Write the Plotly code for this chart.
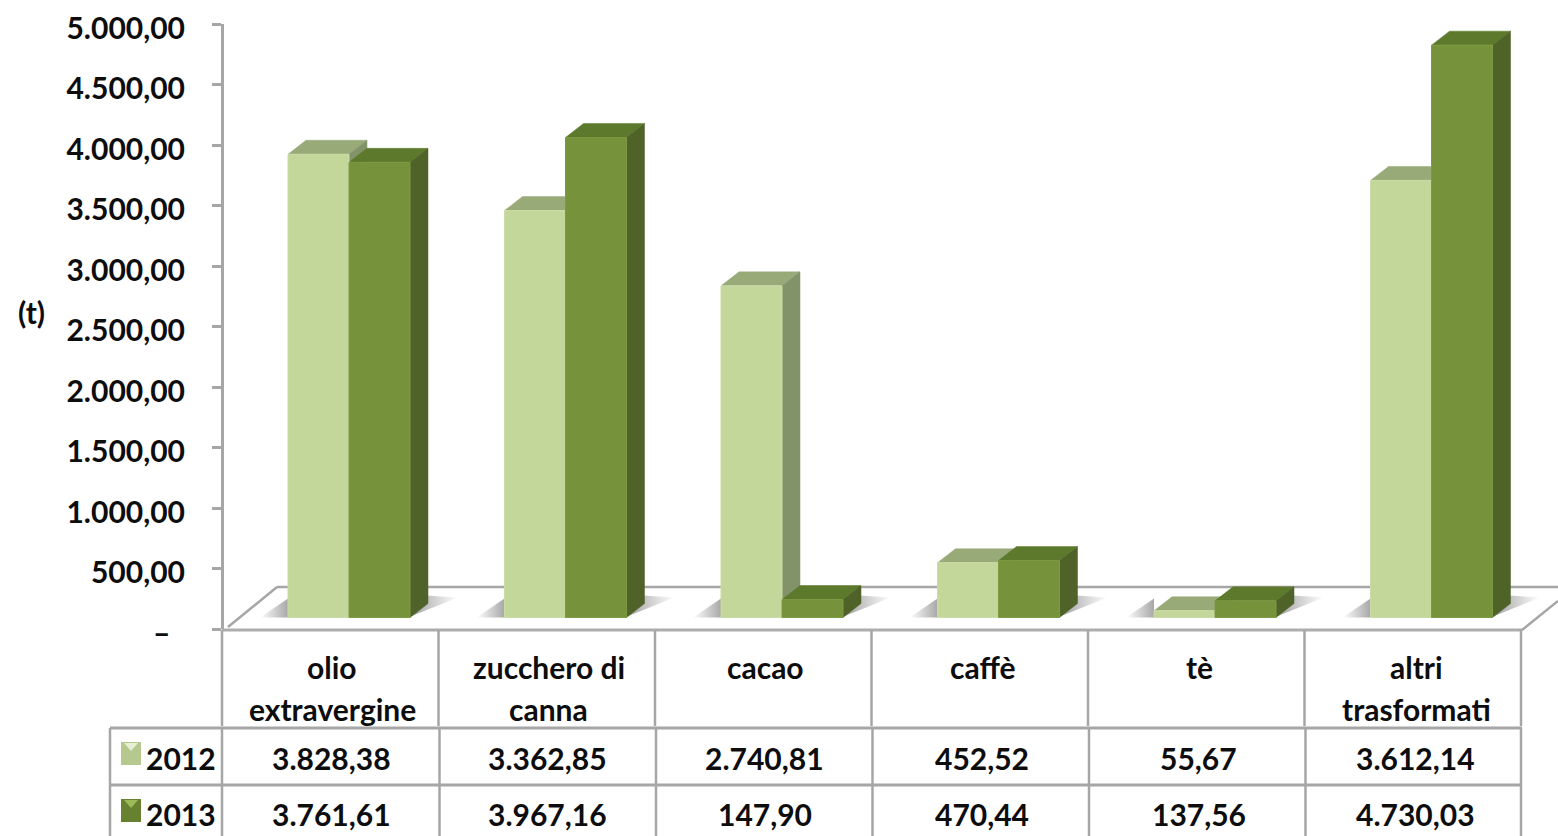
import plotly.graph_objects as go

W, H = 1558, 836
categories = ["olio<br>extravergine", "zucchero di<br>canna", "cacao", "caffè", "tè", "altri<br>trasformati"]
years = ["2012", "2013"]
values_2012 = [3828.38, 3362.85, 2740.81, 452.52, 55.67, 3612.14]
values_2013 = [3761.61, 3967.16, 147.90, 470.44, 137.56, 4730.03]
labels_2012 = ["3.828,38", "3.362,85", "2.740,81", "452,52", "55,67", "3.612,14"]
labels_2013 = ["3.761,61", "3.967,16", "147,90", "470,44", "137,56", "4.730,03"]
tick_vals = [0, 500, 1000, 1500, 2000, 2500, 3000, 3500, 4000, 4500, 5000]
tick_text = ["–\u00a0\u00a0", "500,00", "1.000,00", "1.500,00", "2.000,00", "2.500,00",
             "3.000,00", "3.500,00", "4.000,00", "4.500,00", "5.000,00"]

GRID = "#a6a6a6"
TXT = "#0d0d0d"
FONT = "Lato"
FS = 30
COL_W = 216.5
X0_PX = 330.25
Y0_PX, Y5K_PX = 629, 24
PX_Y = 5000 / (Y0_PX - Y5K_PX)
BAR_W = 61 / COL_W
OFF = {0: -42.25 / COL_W, 1: 18.75 / COL_W}
DX, DY = 18 / COL_W, 14 * PX_Y
FRONT = {0: "#c4d79b", 1: "#76933c"}
EDGE = {0: "#cbdca6", 1: "#7d9a42"}
TOP = {0: "#98aa78", 1: "#5d7a2c"}
SIDE = {0: "#82936a", 1: "#4f6228"}


def px(x):
    return x / W


def py(y):
    return 1 - y / H


x_range = [-X0_PX / COL_W, (W - X0_PX) / COL_W]
dom = [py(Y0_PX), py(Y5K_PX)]
lift = 11.5 * PX_Y
bar_range = [-lift, 5000 - lift]

fig = go.Figure()
# anchor trace so the value axis (and the overlays on it) exists
fig.add_trace(go.Scatter(x=[0], y=[0], mode="markers", marker=dict(size=1, opacity=0),
                         hoverinfo="skip", showlegend=False, xaxis="x", yaxis="y"))


def poly(xs, ys, color):
    fig.add_trace(go.Scatter(x=xs, y=ys, mode="lines", fill="toself", fillcolor=color,
                             line=dict(color=color, width=0.5), hoverinfo="skip",
                             showlegend=False, xaxis="x", yaxis="y2"))


def shadow(xs, ys, scale):
    fig.add_trace(go.Scatter(x=xs, y=ys, mode="lines", fill="toself", line=dict(width=0),
                             fillgradient=dict(type="horizontal", colorscale=scale),
                             hoverinfo="skip", showlegend=False, xaxis="x", yaxis="y2"))


SH_L = [[0, "rgba(130,130,130,0)"], [1, "rgba(130,130,130,0.7)"]]
SH_R = [[0, "rgba(130,130,130,0.8)"], [1, "rgba(130,130,130,0)"]]
for i in range(len(categories)):
    left = i + OFF[0]
    right = i + OFF[1] + BAR_W
    shadow([left - 28 / COL_W, left, left, left - 28 / COL_W],
           [0, 0, 19 * PX_Y, 0], SH_L)
    shadow([right - 2 / COL_W, right + 48 / COL_W, right + 16 / COL_W, right - 2 / COL_W],
           [0, 20 * PX_Y, 22 * PX_Y, 0], SH_R)

for s, vals in enumerate([values_2012, values_2013]):
    for i, v in enumerate(vals):
        x1 = i + OFF[s]
        x2 = x1 + BAR_W
        poly([x1, x1 + DX, x2 + DX, x2, x1], [v, v + DY, v + DY, v, v], TOP[s])
        poly([x2, x2 + DX, x2 + DX, x2, x2], [0, DY, v + DY, v, 0], SIDE[s])

for s, (name, vals) in enumerate(zip(years, [values_2012, values_2013])):
    fig.add_trace(go.Bar(x=list(range(len(vals))), y=vals, base=0, name=name,
                         width=BAR_W, offset=OFF[s],
                         marker=dict(color=FRONT[s], line=dict(width=1, color=EDGE[s])),
                         showlegend=False, xaxis="x", yaxis="y3"))

shapes = []


def seg(x1, y1, x2, y2, w=2.5, color=GRID):
    shapes.append(dict(type="line", xref="paper", yref="paper", x0=px(x1), y0=py(y1), x1=px(x2), y1=py(y2),
                       line=dict(color=color, width=w), layer="below"))


# floor
seg(222, 630, 1522, 630, 3, "#adadad")
seg(228, 627, 277, 587)
seg(277, 587, 1558, 587)
seg(1522, 630, 1558, 601)
# category header verticals
for k in range(7):
    seg(222 + k * COL_W, 630, 222 + k * COL_W, 726)
# table
seg(110, 728, 1522, 728, 3)
seg(110, 785, 1522, 785, 3)
seg(110, 728, 110, 836)
for k in range(7):
    xv = 222 if k == 0 else 222 + k * COL_W + (1 if k < 6 else 0)
    seg(xv, 728, xv, 836)


def key(y0, fill, light):
    shapes.append(dict(type="rect", xref="paper", yref="paper", x0=px(121), x1=px(141), y0=py(y0), y1=py(y0 + 23),
                       fillcolor=fill, line=dict(width=0), layer="above"))
    path = "M %.5f %.5f L %.5f %.5f L %.5f %.5f Z" % (px(124), py(y0 + 1), px(138), py(y0 + 1), px(131), py(y0 + 9))
    shapes.append(dict(type="path", xref="paper", yref="paper", path=path, fillcolor=light,
                       line=dict(width=0), layer="above"))


key(742, "#b5c98e", "#e6efd2")
key(799, "#66812f", "#9bbb59")

ann = []


def label(x_px, y, text):
    ann.append(dict(x=px(x_px), y=py(y), xref="paper", yref="paper", text=text, showarrow=False,
                    xanchor="center", yanchor="middle",
                    font=dict(family=FONT, size=FS, color=TXT, weight="bold")))


def col_x(i):
    return 331 + 216.9 * i


for i, c in enumerate(categories):
    parts = c.split("<br>")
    label(col_x(i) + 1, 667, parts[0])
    if len(parts) > 1:
        label(col_x(i) + 1, 709, parts[1])
for i, t in enumerate(labels_2012):
    label(col_x(i), 758, t)
for i, t in enumerate(labels_2013):
    label(col_x(i), 814, t)
label(181, 758, years[0])
label(181, 814, years[1])
label(31, 312, "(t)")

fig.update_layout(
    width=W, height=H, margin=dict(l=0, r=0, t=0, b=0, pad=0, autoexpand=False),
    paper_bgcolor="white", plot_bgcolor="rgba(0,0,0,0)",
    showlegend=False, shapes=shapes, annotations=ann,
    xaxis=dict(domain=[0, 1], range=x_range, visible=False, fixedrange=True),
    yaxis=dict(domain=dom, range=[0, 5000], anchor="free", position=px(222), side="left",
               tickmode="array", tickvals=tick_vals, ticktext=tick_text, ticks="outside", ticklen=9,
               tickcolor=GRID, tickwidth=2.5, showline=True, linecolor=GRID, linewidth=3,
               showgrid=False, zeroline=False, ticklabelstandoff=21, ticklabelshift=4,
               tickfont=dict(family=FONT, size=FS, color=TXT, weight="bold"), fixedrange=True),
    yaxis2=dict(domain=dom, overlaying="y", range=bar_range, visible=False, anchor="x", fixedrange=True),
    yaxis3=dict(domain=dom, overlaying="y", range=bar_range, visible=False, anchor="x", fixedrange=True),
)

fig.write_html("out.html", post_script="document.body.style.margin='0';document.body.style.overflow='hidden';",
               config=dict(displayModeBar=False))
